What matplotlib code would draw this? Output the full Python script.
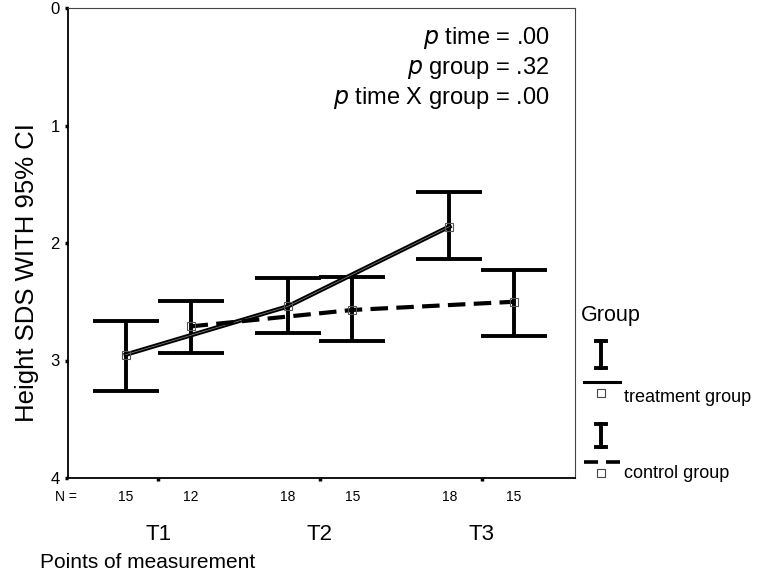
import matplotlib.pyplot as plt
from matplotlib.lines import Line2D

plt.rcParams['font.family'] = ['Liberation Sans', 'DejaVu Sans']

# data (height SDS, axis inverted)
points = ['T1', 'T2', 'T3']
treat_mean = [2.95, 2.54, 1.86]
treat_lo = [2.66, 2.30, 1.57]
treat_hi = [3.26, 2.77, 2.14]
ctrl_mean = [2.71, 2.57, 2.50]
ctrl_lo = [2.49, 2.29, 2.23]
ctrl_hi = [2.94, 2.83, 2.79]
treat_n = [15, 18, 18]
ctrl_n = [12, 15, 15]
p_text = ['time = .00', 'group = .32', 'time X group = .00']

fig = plt.figure(figsize=(7.63, 5.73), dpi=100)
ax = fig.add_axes([68 / 763, 1 - 478 / 573, 507 / 763, 470 / 573])

xt = [i + 1 - 0.2 for i in range(3)]
xc = [i + 1 + 0.2 for i in range(3)]

def draw_group(x, m, lo, hi, ls):
    err = [[mm - l for mm, l in zip(m, lo)], [h - mm for mm, h in zip(m, hi)]]
    ax.errorbar(x, m, yerr=err, fmt='none', ecolor='black', elinewidth=2.8,
                capsize=23.5, capthick=2.8, zorder=2)
    if ls == '-':
        ax.plot(x, m, color='black', lw=3.2, zorder=3)
        ax.plot(x, m, color='#888888', lw=0.5, zorder=3)
    else:
        ax.plot(x, m, color='black', lw=3.0, dashes=(4.2, 2.0), zorder=3)
    ax.plot(x, m, ls='none', marker='s', ms=6, mfc='none', mec='#555555', mew=0.8, zorder=4)

draw_group(xt, treat_mean, treat_lo, treat_hi, '-')
draw_group(xc, ctrl_mean, ctrl_lo, ctrl_hi, '--')

ax.set_ylim(4, 0)
ax.set_xlim(1 - 90 / 161.5, 3 + 93 / 161.5)
ax.set_yticks([0, 1, 2, 3, 4])
ax.set_yticklabels(['0', '1', '2', '3', '4'], fontsize=12)
ax.set_xticks([1, 2, 3])
ax.set_xticklabels(points, fontsize=16)
ax.tick_params(axis='y', length=2, width=2.5, pad=4)
ax.tick_params(axis='x', length=2, width=2.5, pad=31)

for s in ['left', 'bottom']:
    ax.spines[s].set_linewidth(1.3)
for s in ['top', 'right']:
    ax.spines[s].set_linewidth(0.8)
    ax.spines[s].set_color('#444444')

ax.set_ylabel('Height SDS WITH 95% CI', fontsize=18.5)
ax.yaxis.set_label_coords(-0.058, 0.438)

# N counts under the axis
tr = ax.get_xaxis_transform()
ax.text(55 / 763, 1 - 497 / 573, 'N =', transform=fig.transFigure, fontsize=10,
        ha='left', va='center')
for x, n in zip(xt, treat_n):
    ax.text(x, -0.04, str(n), transform=tr, fontsize=10, ha='center', va='center')
for x, n in zip(xc, ctrl_n):
    ax.text(x, -0.04, str(n), transform=tr, fontsize=10, ha='center', va='center')

fig.text(40 / 763, 1 - 563 / 573, 'Points of measurement', fontsize=15,
         ha='left', va='center')

# p-values
for i, t in enumerate(p_text):
    ax.text(0.95, 0.936 - i * 0.0638, r'$\mathit{p}$ ' + t, transform=ax.transAxes,
            fontsize=17, ha='right', va='center')

# legend drawn by hand
fig.text(581 / 763, 1 - 315 / 573, 'Group', fontsize=15.5, ha='left', va='center')

def fy(py):
    return 1 - py / 573

def leg_entry(i_top, i_bot, line_y, sq_y, txt_y, label, dashed):
    fx = 601 / 763
    fig.add_artist(Line2D([fx, fx], [fy(i_bot), fy(i_top)], color='black', lw=2.8))
    for yy in (i_top, i_bot):
        fig.add_artist(Line2D([fx - 5 / 763, fx + 5 / 763], [fy(yy), fy(yy)],
                              color='black', lw=2.8))
    if dashed:
        fig.add_artist(Line2D([584 / 763, 620 / 763], [fy(line_y), fy(line_y)],
                              color='black', lw=2.6, dashes=(3.9, 2.2)))
    else:
        fig.add_artist(Line2D([584 / 763, 620 / 763], [fy(line_y), fy(line_y)],
                              color='black', lw=2.2))
    fig.add_artist(Line2D([fx], [fy(sq_y)], marker='s', ms=6, mfc='none',
                          mec='#444444', mew=0.8))
    fig.text(624 / 763, fy(txt_y), label, fontsize=13, ha='left', va='center')

leg_entry(341, 368, 382, 393, 398, 'treatment group', False)
leg_entry(424, 447, 462, 473, 474, 'control group', True)

fig.savefig('out.png', dpi=100)
